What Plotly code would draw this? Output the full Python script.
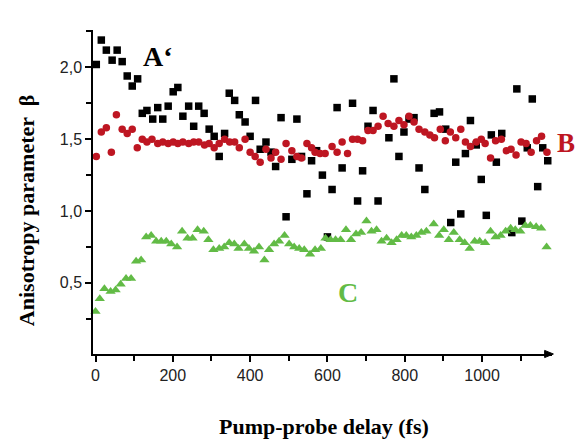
import plotly.graph_objects as go

# A' (black squares)
delay_a = [-13, 2, 15, 28, 43, 56, 69, 82, 95, 109, 121, 133, 148, 161, 174, 188,
           201, 213, 226, 241, 254, 267, 281, 294, 307, 320, 334, 346, 360, 372,
           387, 400, 414, 426, 441, 454, 466, 480, 493, 508, 521, 533, 547, 559,
           572, 587, 600, 612, 625, 638, 665, 678, 691, 705, 718, 731, 759, 772,
           785, 798, 811, 824, 837, 852, 876, 890, 906, 919, 932, 945, 957, 970,
           985, 998, 1011, 1024, 1037, 1051, 1077, 1090, 1103, 1117, 1130, 1144,
           1157, 1170]
beta_a = [1.90, 2.02, 2.19, 2.12, 2.05, 2.12, 2.04, 1.94, 1.87, 1.92, 1.68, 1.70,
          1.64, 1.72, 1.64, 1.73, 1.83, 1.86, 1.66, 1.73, 1.59, 1.73, 1.68, 1.57,
          1.52, 1.38, 1.54, 1.82, 1.77, 1.67, 1.62, 1.52, 1.77, 1.43, 1.48, 1.41,
          1.31, 1.65, 0.96, 1.36, 1.64, 1.38, 1.12, 1.35, 1.42, 1.25, 0.82, 1.15,
          1.72, 1.30, 1.75, 1.07, 1.28, 1.59, 1.70, 1.07, 1.51, 1.92, 1.38, 1.55,
          1.64, 1.65, 1.30, 1.15, 1.68, 1.69, 1.57, 0.92, 1.34, 0.98, 1.40, 1.63,
          1.46, 1.22, 0.97, 1.53, 1.34, 1.54, 0.85, 1.85, 0.93, 1.44, 1.78, 1.17,
          1.44, 1.35]

# B (red circles)
delay_b = [-13, 2, 15, 28, 41, 54, 69, 82, 95, 108, 121, 133, 146, 161, 174, 188,
           201, 213, 226, 241, 254, 267, 282, 294, 307, 320, 334, 347, 360, 372,
           387, 400, 413, 426, 441, 454, 466, 480, 493, 508, 521, 533, 547, 559,
           568, 581, 594, 612, 625, 638, 652, 665, 678, 691, 705, 718, 731, 744,
           757, 772, 785, 798, 811, 824, 837, 852, 865, 877, 892, 905, 918, 932,
           945, 957, 970, 985, 998, 1008, 1022, 1035, 1050, 1063, 1075, 1088,
           1101, 1114, 1127, 1141, 1154, 1168]
beta_b = [1.38, 1.38, 1.55, 1.58, 1.41, 1.67, 1.57, 1.54, 1.57, 1.44, 1.50, 1.48,
          1.50, 1.47, 1.48, 1.47, 1.48, 1.47, 1.48, 1.47, 1.48, 1.48, 1.46, 1.47,
          1.44, 1.47, 1.50, 1.48, 1.48, 1.44, 1.50, 1.41, 1.38, 1.34, 1.43, 1.37,
          1.41, 1.36, 1.47, 1.42, 1.38, 1.37, 1.47, 1.44, 1.41, 1.40, 1.40, 1.45,
          1.41, 1.48, 1.40, 1.50, 1.50, 1.49, 1.56, 1.56, 1.59, 1.66, 1.61, 1.59,
          1.63, 1.60, 1.66, 1.62, 1.57, 1.55, 1.53, 1.51, 1.57, 1.49, 1.55, 1.51,
          1.57, 1.48, 1.45, 1.48, 1.50, 1.47, 1.37, 1.49, 1.50, 1.42, 1.43, 1.39,
          1.48, 1.47, 1.41, 1.49, 1.52, 1.41]

# C (green triangles)
delay_c = [-15, 0, 11, 23, 39, 52, 65, 79, 92, 105, 118, 131, 144, 157, 170, 183,
           196, 211, 224, 238, 251, 264, 280, 292, 305, 320, 333, 346, 359, 370,
           385, 397, 410, 423, 437, 449, 462, 475, 489, 501, 514, 527, 540, 555,
           568, 583, 595, 608, 621, 634, 648, 661, 674, 687, 701, 714, 727, 740,
           753, 766, 779, 792, 804, 817, 830, 843, 856, 875, 889, 901, 914, 927,
           942, 955, 968, 981, 994, 1008, 1022, 1035, 1048, 1061, 1074, 1086,
           1099, 1112, 1125, 1140, 1153, 1167]
beta_c = [0.38, 0.30, 0.39, 0.46, 0.44, 0.45, 0.49, 0.53, 0.53, 0.65, 0.66, 0.82,
          0.83, 0.79, 0.79, 0.79, 0.77, 0.75, 0.86, 0.81, 0.81, 0.87, 0.86, 0.80,
          0.73, 0.74, 0.75, 0.78, 0.77, 0.74, 0.77, 0.74, 0.72, 0.75, 0.66, 0.73,
          0.77, 0.79, 0.83, 0.77, 0.75, 0.74, 0.73, 0.70, 0.73, 0.74, 0.81, 0.80,
          0.80, 0.80, 0.87, 0.80, 0.84, 0.85, 0.93, 0.86, 0.87, 0.79, 0.81, 0.78,
          0.80, 0.83, 0.83, 0.82, 0.83, 0.85, 0.86, 0.91, 0.83, 0.87, 0.80, 0.85,
          0.80, 0.78, 0.74, 0.79, 0.79, 0.78, 0.86, 0.82, 0.83, 0.86, 0.88, 0.87,
          0.86, 0.90, 0.90, 0.89, 0.88, 0.75]

y_ticks = [0.5, 1.0, 1.5, 2.0]
y_ticktext = ["0,5", "1,0", "1,5", "2,0"]

BLACK = "#000000"
RED = "#BE1622"
GREEN = "#62BB46"
serif = "Liberation Serif"
sans = "Liberation Sans"

fig = go.Figure()
fig.add_trace(go.Scatter(x=delay_a, y=beta_a, mode="markers", cliponaxis=False,
                         marker=dict(symbol="square", size=7.5, color=BLACK)))
fig.add_trace(go.Scatter(x=delay_c, y=beta_c, mode="markers", cliponaxis=False,
                         marker=dict(symbol="triangle-up", size=9, color=GREEN)))
fig.add_trace(go.Scatter(x=delay_b, y=beta_b, mode="markers", cliponaxis=False,
                         marker=dict(symbol="circle", size=7.5, color=RED)))

axis_common = dict(showline=True, linecolor="black", linewidth=1.5,
                   ticks="outside", ticklen=6, tickwidth=1.5, tickcolor="black",
                   showgrid=False, zeroline=False,
                   tickfont=dict(family=sans, size=16, color="#222222"))

fig.update_xaxes(range=[-6.5, 1181], tick0=0, dtick=200,
                 minor=dict(dtick=100, tick0=0, ticks="outside", ticklen=5,
                            tickwidth=1.5, tickcolor="black"),
                 **axis_common)
fig.update_yaxes(range=[0.005, 2.26], tickvals=y_ticks, ticktext=y_ticktext,
                 minor=dict(tickvals=[0.25, 0.75, 1.25, 1.75, 2.25], ticks="outside",
                            ticklen=5, tickwidth=1.5, tickcolor="black"),
                 **axis_common)

# arrow head on the x axis
fig.add_shape(type="path", xref="paper", yref="paper",
              path="M 0.984 -0.011 L 1.003 0 L 0.984 0.011 Z",
              fillcolor="black", line=dict(color="black", width=1))

labels = [
    dict(text="A\u2018", x=0.142, y=0.917, size=28, color=BLACK),
    dict(text="B", x=1.031, y=0.651, size=27, color=RED),
    dict(text="C", x=0.556, y=0.191, size=28, color=GREEN),
]
for lab in labels:
    fig.add_annotation(text="<b>" + lab["text"] + "</b>", x=lab["x"], y=lab["y"],
                       xref="paper", yref="paper", showarrow=False,
                       xanchor="center", yanchor="middle",
                       font=dict(family=serif, size=lab["size"], color=lab["color"]))

fig.add_annotation(text="<b>Pump-probe delay (fs)</b>", x=0.503, y=-0.225,
                   xref="paper", yref="paper", showarrow=False,
                   xanchor="center", yanchor="middle",
                   font=dict(family=serif, size=22, color="black"))
fig.add_annotation(text="<b>Anisotropy parameter  \u03b2</b>", x=-0.146, y=0.444,
                   xref="paper", yref="paper", showarrow=False, textangle=-90,
                   xanchor="center", yanchor="middle",
                   font=dict(family=serif, size=22, color="black"))

fig.update_layout(width=576, height=440, showlegend=False,
                  margin=dict(l=93, r=24, t=30, b=86, autoexpand=False),
                  plot_bgcolor="white", paper_bgcolor="white")

# drop the default body margin so the figure fills the window exactly
fig.write_html("out.html", config={"displayModeBar": False},
               post_script="document.body.style.margin='0';"
                           "document.body.style.overflow='hidden';")
